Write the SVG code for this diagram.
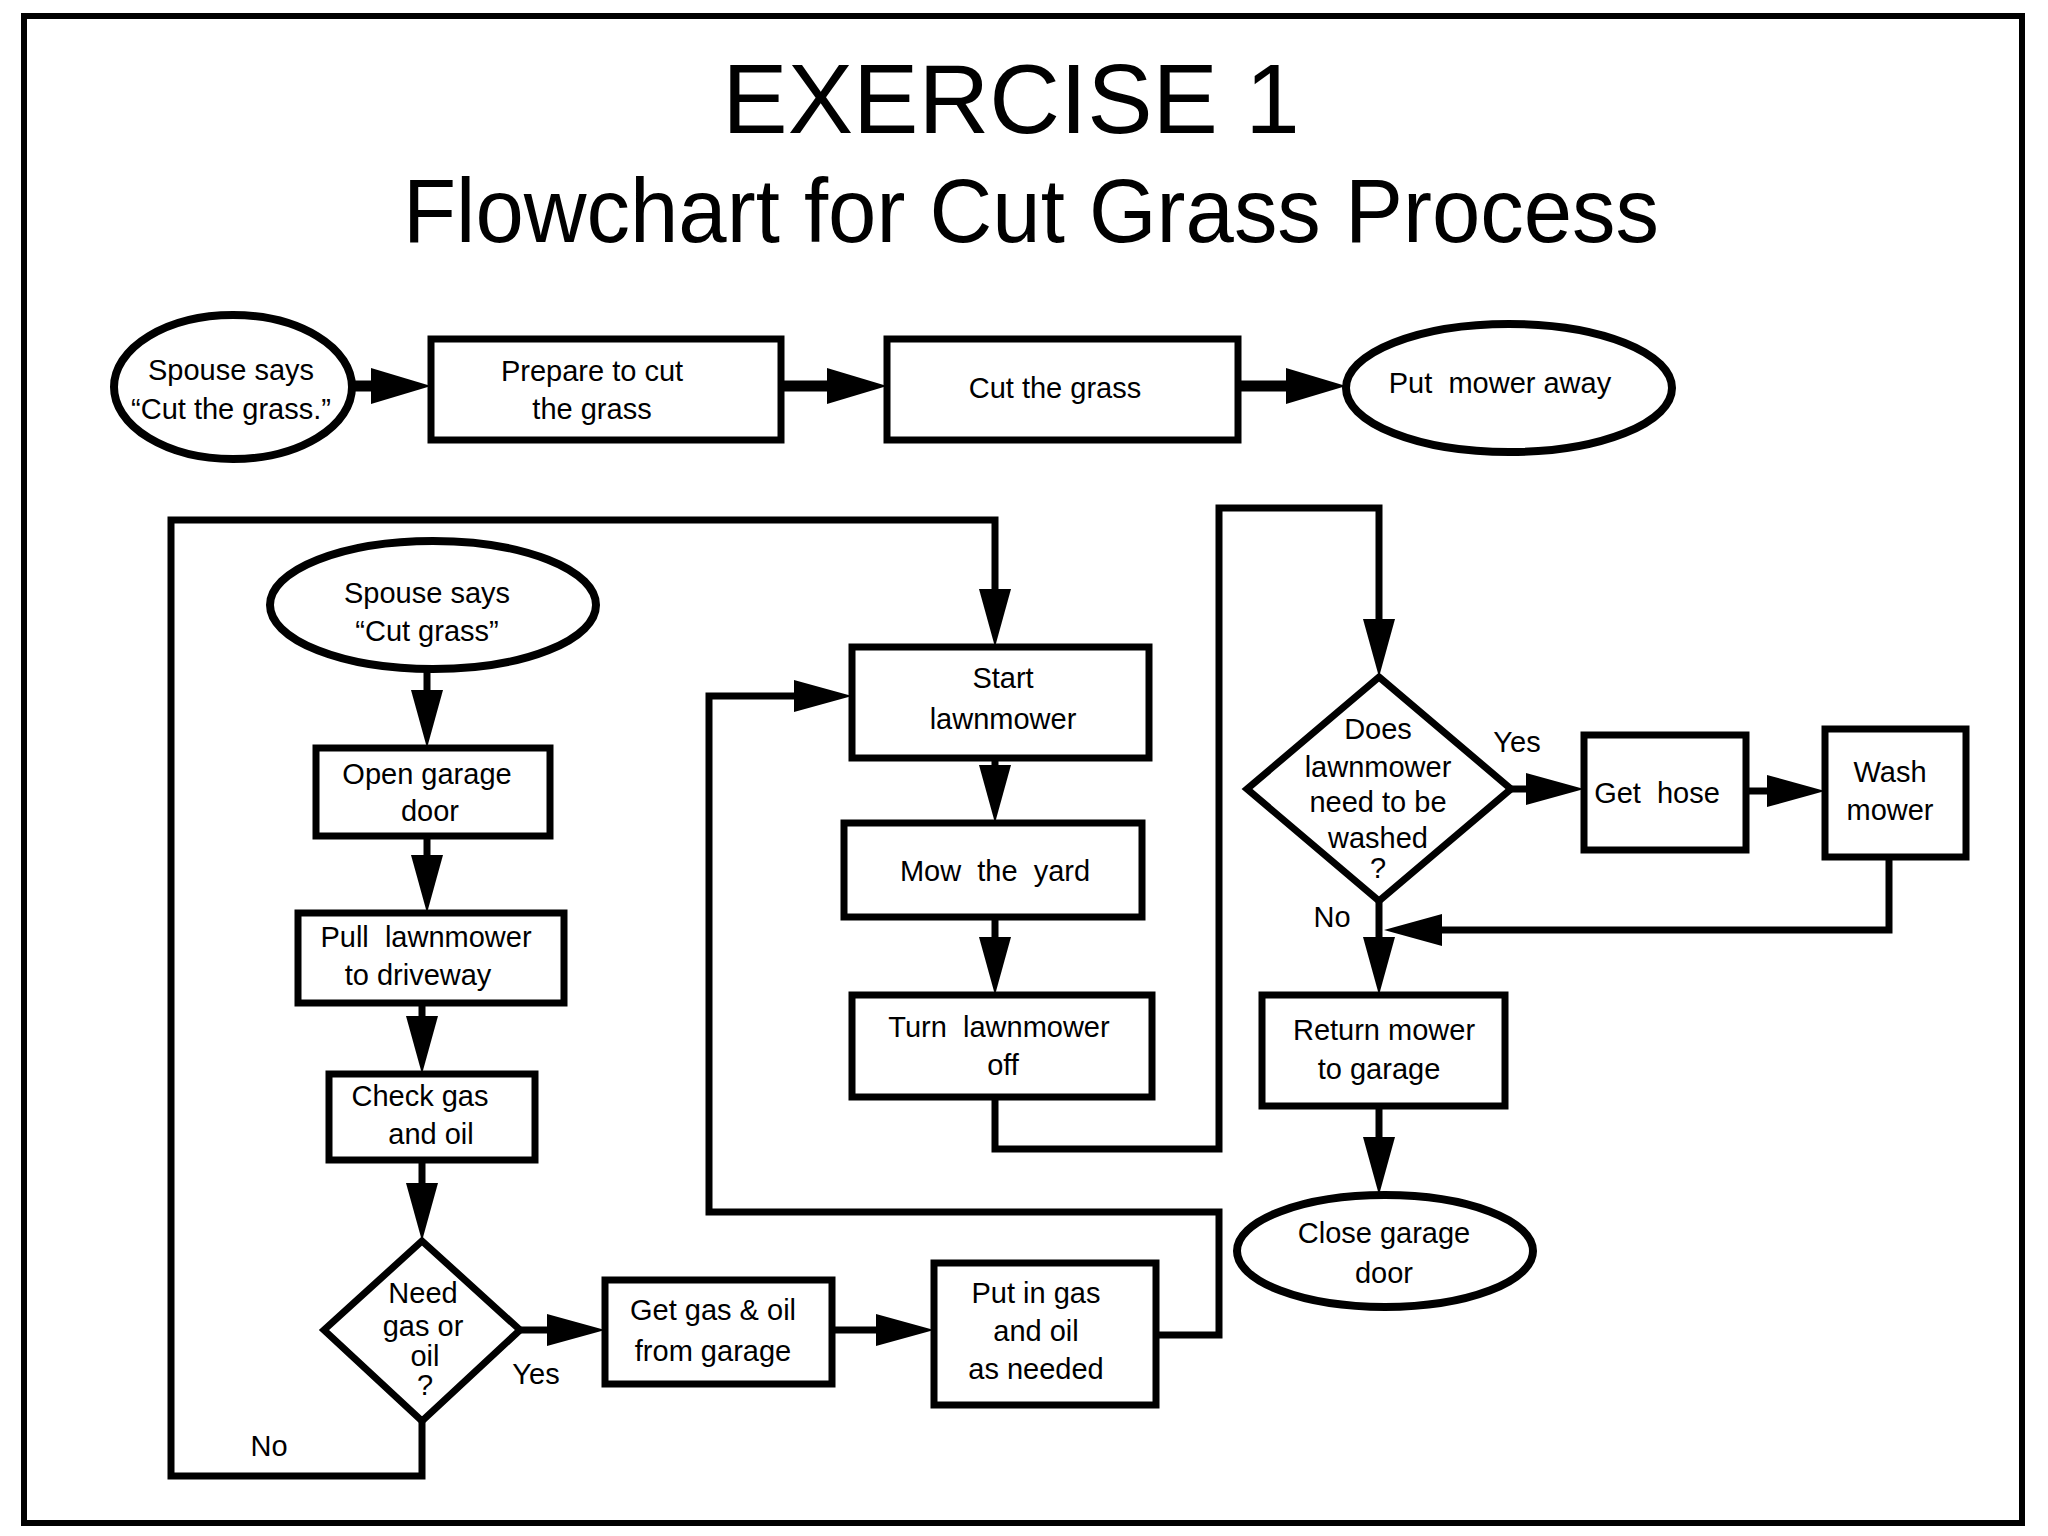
<svg xmlns="http://www.w3.org/2000/svg" width="2048" height="1536" viewBox="0 0 2048 1536">
<style>
  .bg { fill: #ffffff; }
  .frame { fill: none; stroke: #000; stroke-width: 6; }
  .box { fill: #fff; stroke: #000; stroke-width: 7; }
  .term { fill: #fff; stroke: #000; stroke-width: 8; }
  .dec { fill: #fff; stroke: #000; stroke-width: 7; stroke-linejoin: miter; }
  .t { font-family: "Liberation Sans", Arial, sans-serif; font-size: 29px; fill: #000; text-anchor: middle; white-space: pre; }
  .lbl { font-family: "Liberation Sans", Arial, sans-serif; font-size: 29px; fill: #000; text-anchor: middle; }
  .title { font-family: "Liberation Sans", Arial, sans-serif; fill: #000; text-anchor: middle; }
  .c { fill: none; stroke: #000; stroke-width: 7; stroke-linejoin: miter; stroke-linecap: square; }
  .ct { fill: none; stroke: #000; stroke-width: 11; }
</style>
<defs>
  <marker id="ah" markerUnits="userSpaceOnUse" markerWidth="60" markerHeight="36" viewBox="0 -18 60 36" refX="38" refY="0" orient="auto">
    <path d="M0,-16 L58,0 L0,16 Z" fill="#000"/>
  </marker>
  <marker id="ahb" markerUnits="userSpaceOnUse" markerWidth="62" markerHeight="40" viewBox="0 -20 62 40" refX="40" refY="0" orient="auto">
    <path d="M0,-18 L60,0 L0,18 Z" fill="#000"/>
  </marker>
</defs>
<rect class="bg" x="0" y="0" width="2048" height="1536"/>
<rect class="frame" x="24" y="16" width="1998" height="1507"/>

<g id="title">
  <text class="title" x="1011" y="133" font-size="98">EXERCISE 1</text>
  <text class="title" x="1031" y="242" font-size="91" textLength="1256" lengthAdjust="spacingAndGlyphs">Flowchart for Cut Grass Process</text>
</g>

<g id="connectors">
  <path class="ct" d="M353,386 H411" marker-end="url(#ahb)"/>
  <path class="ct" d="M781,386 H867" marker-end="url(#ahb)"/>
  <path class="ct" d="M1238,386 H1326" marker-end="url(#ahb)"/>

  <path class="c" d="M427,670 V728" marker-end="url(#ah)"/>
  <path class="c" d="M427,836 V893" marker-end="url(#ah)"/>
  <path class="c" d="M422,1003 V1054" marker-end="url(#ah)"/>
  <path class="c" d="M422,1160 V1221" marker-end="url(#ah)"/>
  <path class="c" d="M520,1330 H585" marker-end="url(#ah)"/>
  <path class="c" d="M832,1330 H914" marker-end="url(#ah)"/>
  <path class="c" d="M422,1421 V1476 H171 V520 H995 V627" marker-end="url(#ah)"/>
  <path class="c" d="M1156,1335 H1219 V1212 H709 V696 H832" marker-end="url(#ah)"/>
  <path class="c" d="M995,758 V803" marker-end="url(#ah)"/>
  <path class="c" d="M995,917 V975" marker-end="url(#ah)"/>
  <path class="c" d="M995,1097 V1149 H1219 V508 H1379 V657" marker-end="url(#ah)"/>
  <path class="c" d="M1511,789 H1564" marker-end="url(#ah)"/>
  <path class="c" d="M1746,791 H1805" marker-end="url(#ah)"/>
  <path class="c" d="M1889,857 V930 H1404" marker-end="url(#ah)"/>
  <path class="c" d="M1379,901 V975" marker-end="url(#ah)"/>
  <path class="c" d="M1379,1106 V1175" marker-end="url(#ah)"/>

  <text class="lbl" x="536" y="1384">Yes</text>
  <text class="lbl" x="269" y="1456">No</text>
  <text class="lbl" x="1517" y="752">Yes</text>
  <text class="lbl" x="1332" y="927">No</text>
</g>

<g id="n_spouse1">
  <ellipse class="term" cx="233" cy="387" rx="119" ry="72"/>
  <text class="t" x="231" y="380">Spouse says</text>
  <text class="t" x="231" y="419">“Cut the grass.”</text>
</g>
<g id="n_prepare">
  <rect class="box" x="431" y="339" width="350" height="101"/>
  <text class="t" x="592" y="381">Prepare to cut</text>
  <text class="t" x="592" y="419">the grass</text>
</g>
<g id="n_cut">
  <rect class="box" x="887" y="339" width="351" height="101"/>
  <text class="t" x="1055" y="398">Cut the grass</text>
</g>
<g id="n_putaway">
  <ellipse class="term" cx="1509" cy="388" rx="163" ry="64"/>
  <text class="t" x="1500" y="393" xml:space="preserve">Put  mower away</text>
</g>

<g id="n_spouse2">
  <ellipse class="term" cx="433" cy="605" rx="163" ry="64"/>
  <text class="t" x="427" y="603">Spouse says</text>
  <text class="t" x="427" y="641">“Cut grass”</text>
</g>
<g id="n_open">
  <rect class="box" x="316" y="748" width="234" height="88"/>
  <text class="t" x="427" y="784">Open garage</text>
  <text class="t" x="430" y="821">door</text>
</g>
<g id="n_pull">
  <rect class="box" x="298" y="913" width="266" height="90"/>
  <text class="t" x="426" y="947" xml:space="preserve">Pull  lawnmower</text>
  <text class="t" x="418" y="985">to driveway</text>
</g>
<g id="n_check">
  <rect class="box" x="329" y="1074" width="206" height="86"/>
  <text class="t" x="420" y="1106">Check gas</text>
  <text class="t" x="431" y="1144">and oil</text>
</g>
<g id="n_needgas">
  <polygon class="dec" points="422,1241 520,1330 422,1421 324,1330"/>
  <text class="t" x="423" y="1303">Need</text>
  <text class="t" x="423" y="1336">gas or</text>
  <text class="t" x="425" y="1366">oil</text>
  <text class="t" x="425" y="1395">?</text>
</g>
<g id="n_getgas">
  <rect class="box" x="605" y="1280" width="227" height="104"/>
  <text class="t" x="713" y="1320">Get gas &amp; oil</text>
  <text class="t" x="713" y="1361">from garage</text>
</g>
<g id="n_putgas">
  <rect class="box" x="934" y="1263" width="222" height="142"/>
  <text class="t" x="1036" y="1303">Put in gas</text>
  <text class="t" x="1036" y="1341">and oil</text>
  <text class="t" x="1036" y="1379">as needed</text>
</g>
<g id="n_start">
  <rect class="box" x="852" y="647" width="297" height="111"/>
  <text class="t" x="1003" y="688">Start</text>
  <text class="t" x="1003" y="729">lawnmower</text>
</g>
<g id="n_mow">
  <rect class="box" x="844" y="823" width="298" height="94"/>
  <text class="t" x="995" y="881" xml:space="preserve">Mow  the  yard</text>
</g>
<g id="n_turnoff">
  <rect class="box" x="852" y="995" width="300" height="102"/>
  <text class="t" x="999" y="1037" xml:space="preserve">Turn  lawnmower</text>
  <text class="t" x="1003" y="1075">off</text>
</g>
<g id="n_wash_q">
  <polygon class="dec" points="1379,677 1511,789 1379,901 1247,789"/>
  <text class="t" x="1378" y="739">Does</text>
  <text class="t" x="1378" y="777">lawnmower</text>
  <text class="t" x="1378" y="812">need to be</text>
  <text class="t" x="1378" y="848">washed</text>
  <text class="t" x="1378" y="878">?</text>
</g>
<g id="n_hose">
  <rect class="box" x="1584" y="735" width="162" height="115"/>
  <text class="t" x="1657" y="803" xml:space="preserve">Get  hose</text>
</g>
<g id="n_wash">
  <rect class="box" x="1825" y="729" width="141" height="128"/>
  <text class="t" x="1890" y="782">Wash</text>
  <text class="t" x="1890" y="820">mower</text>
</g>
<g id="n_return">
  <rect class="box" x="1262" y="995" width="243" height="111"/>
  <text class="t" x="1384" y="1040">Return mower</text>
  <text class="t" x="1379" y="1079">to garage</text>
</g>
<g id="n_close">
  <ellipse class="term" cx="1385" cy="1251" rx="148" ry="56"/>
  <text class="t" x="1384" y="1243">Close garage</text>
  <text class="t" x="1384" y="1283">door</text>
</g>
</svg>
